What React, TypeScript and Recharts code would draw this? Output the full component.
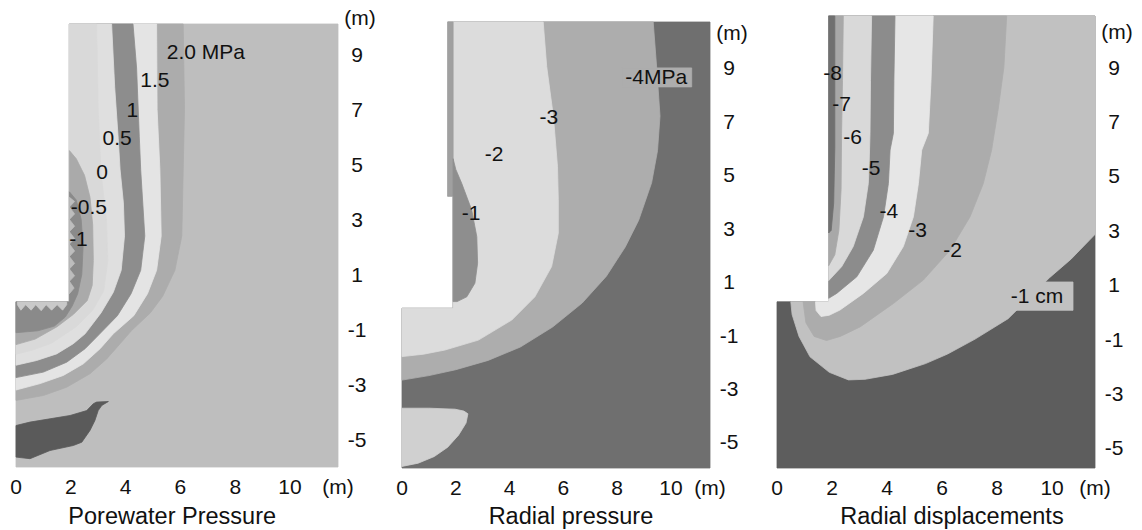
import React from 'react';
import { ScatterChart, Scatter, XAxis, YAxis, ReferenceArea, Label } from 'recharts';

type Pt = [number, number];
type Region = { fill: string; pts: Pt[] };
type Tag = { x: number; y: number; text: string };

const FONT = '"Liberation Sans", Arial, Helvetica, sans-serif';
const INK = '#111111';

const yTicks = [9, 7, 5, 3, 1, -1, -3, -5];
const xTickVals = [0, 2, 4, 6, 8, 10];
const unitLevel = 10.32; // where the "(m)" caption of the depth axis sits

// ---------- Porewater pressure ----------
const poreX: Pt = [0, 11.75];
const poreY: Pt = [-6, 10.1];
const poreWall = 1.95;

const pore20: Pt[] = [[6.1, 10.1], [6.15, 7], [6.1, 4.8], [6.05, 2.4], [5.8, 1.15], [5.35, 0.2], [4.9, -0.4], [4.22, -1.04], [3.8, -1.52], [3.31, -2.07], [2.7, -2.61], [1.85, -3.1], [1.0, -3.4], [0, -3.58]];
const pore15: Pt[] = [[5.13, 10.1], [5.15, 7], [5.25, 4.8], [5.3, 2.4], [5.13, 1.15], [4.8, 0.3], [4.3, -0.5], [3.55, -1.16], [3.07, -1.7], [2.46, -2.25], [1.73, -2.67], [0.88, -2.97], [0, -3.2]];
const pore10: Pt[] = [[4.27, 10.1], [4.4, 8.5], [4.5, 6], [4.55, 4.8], [4.7, 2.4], [4.55, 1.15], [4.2, 0.3], [3.7, -0.5], [2.94, -1.28], [2.52, -1.7], [1.85, -2.19], [1.0, -2.55], [0, -2.75]];
const pore05: Pt[] = [[3.49, 10.1], [3.6, 7.8], [3.73, 5.95], [3.8, 4.8], [3.92, 3.6], [3.96, 2.4], [3.84, 1.15], [3.55, 0.35], [3.1, -0.4], [2.52, -1.16], [2.09, -1.52], [1.48, -1.89], [0.75, -2.13], [0, -2.3]];
const pore00: Pt[] = [[2.94, 10.1], [3.0, 7], [3.1, 4.7], [3.3, 3], [3.35, 1.5], [3.2, 0.4], [2.8, -0.3], [2.2, -0.9], [1.3, -1.5], [0.6, -1.75], [0, -1.9]];
const poreM05: Pt[] = [[poreWall, 5.5], [2.2, 5.2], [2.5, 4.6], [2.7, 3.8], [2.8, 2.8], [2.82, 1.5], [2.78, 0.6], [2.6, 0.05], [2.1, -0.45], [1.5, -0.9], [0.7, -1.35], [0, -1.55]];
const poreM10: Pt[] = [[poreWall, 4.0], [2.2, 3.7], [2.38, 3.0], [2.45, 2.0], [2.4, 1.0], [2.25, 0.3], [2.05, -0.15], [1.8, -0.55], [1.4, -0.88], [0.8, -1.05], [0, -1.12]];
const poreFroth: Pt[] = [[0.05, 0], [1.85, 0], [1.85, -0.1], [1.7, -0.3], [1.5, -0.1], [1.3, -0.3], [1.1, -0.1], [0.92, -0.32], [0.72, -0.1], [0.55, -0.3], [0.35, -0.1], [0.18, -0.3], [0.05, -0.1]];
const poreNotch: Pt[] = [[poreWall, 3.8], [2.14, 3.65], [poreWall, 3.45], [2.14, 3.2], [poreWall, 3.0], [2.14, 2.75], [poreWall, 2.55], [2.14, 2.3], [poreWall, 2.1], [2.14, 1.85], [poreWall, 1.65], [2.14, 1.4], [poreWall, 1.2], [2.14, 0.95], [poreWall, 0.75], [2.12, 0.5], [poreWall, 0.3]];
const poreBlob: Pt[] = [[0, -4.49], [0.51, -4.37], [1.24, -4.25], [1.97, -4.13], [2.58, -3.95], [2.82, -3.7], [2.94, -3.64], [3.37, -3.62], [3.13, -3.76], [3.0, -3.95], [2.88, -4.31], [2.7, -4.67], [2.4, -5.1], [2.09, -5.22], [1.24, -5.4], [0.51, -5.7], [0, -5.64]];
const poreTags: Tag[] = [
  { x: 6.93, y: 9.07, text: '2.0 MPa' },
  { x: 5.07, y: 8.05, text: '1.5' },
  { x: 4.25, y: 6.96, text: '1' },
  { x: 3.69, y: 5.95, text: '0.5' },
  { x: 3.14, y: 4.71, text: '0' },
  { x: 2.66, y: 3.44, text: '-0.5' },
  { x: 2.28, y: 2.27, text: '-1' },
];

// ---------- Radial pressure ----------
const radX: Pt = [0, 11.45];
const radY: Pt = [-5.98, 10.72];
const radWall = 1.9;
const radStripLeft = 1.7;
const radStripBottom = 4.2;

const rad4: Pt[] = [[9.34, 10.72], [9.47, 9.0], [9.59, 7.2], [9.5, 5.9], [9.28, 4.7], [8.8, 3.3], [8.3, 2.3], [7.6, 1.2], [6.7, 0.2], [5.6, -0.7], [4.4, -1.45], [3.2, -1.95], [2.0, -2.3], [1.0, -2.52], [0, -2.69]];
const rad3: Pt[] = [[5.25, 10.72], [5.38, 9.05], [5.63, 7.18], [5.78, 5.3], [5.81, 4.06], [5.81, 2.81], [5.56, 1.56], [4.94, 0.43], [4.08, -0.44], [2.84, -1.19], [1.6, -1.56], [0.8, -1.72], [0, -1.81]];
const rad1: Pt[] = [[radWall, 5.6], [2.0, 5.2], [2.22, 4.68], [2.59, 3.68], [2.78, 2.68], [2.81, 1.69], [2.71, 0.94], [2.41, 0.43], [2.05, 0.25], [radWall, 0.25]];
const radBlob: Pt[] = [[0, -3.74], [1.0, -3.74], [1.97, -3.78], [2.3, -3.85], [2.45, -3.95], [2.38, -4.3], [2.1, -4.75], [1.7, -5.2], [1.2, -5.55], [0.6, -5.8], [0, -5.92]];
const radBox: Pt[] = [[8.17, 9.0], [10.77, 9.0], [10.77, 8.29], [8.17, 8.29]];
const radTags: Tag[] = [
  { x: 9.45, y: 8.65, text: '-4MPa' },
  { x: 5.46, y: 7.16, text: '-3' },
  { x: 3.42, y: 5.78, text: '-2' },
  { x: 2.57, y: 3.57, text: '-1' },
];

// ---------- Radial displacements ----------
const dispX: Pt = [0, 11.56];
const dispY: Pt = [-5.74, 10.88];
const dispWall = 1.88;
const dispFloor = 0.37;

const disp1: Pt[] = [[11.56, 2.85], [10.7, 1.95], [9.9, 1.25], [9.15, 0.5], [8.4, -0.25], [7.2, -1.0], [6.2, -1.55], [5.4, -1.9], [4.2, -2.3], [3.2, -2.48], [2.6, -2.5], [1.9, -2.22], [1.2, -1.65], [0.8, -0.9], [0.55, -0.1], [0.5, 0.37]];
const disp2: Pt[] = [[8.35, 10.88], [8.25, 9], [8.05, 7.5], [7.8, 5.95], [7.5, 4.72], [7.02, 3.5], [6.29, 2.27], [5.32, 1.17], [4.23, 0.31], [3.02, -0.55], [2.3, -0.9], [1.8, -1.05], [1.35, -0.9], [1.05, -0.4], [0.95, 0.37]];
const disp3: Pt[] = [[5.68, 10.88], [5.6, 8.5], [5.5, 6.57], [5.26, 5.95], [5.14, 4.72], [4.96, 3.5], [4.59, 2.4], [3.99, 1.41], [3.14, 0.68], [2.29, 0.07], [1.9, -0.12], [1.6, -0.17], [1.42, 0.05], [1.4, 0.37]];
const disp4: Pt[] = [[4.29, 10.88], [4.25, 8.5], [4.23, 6.57], [4.11, 5.95], [4.05, 4.72], [3.87, 3.5], [3.5, 2.27], [2.9, 1.29], [2.17, 0.68], [dispWall, 0.5]];
const disp5: Pt[] = [[3.44, 10.88], [3.4, 8.5], [3.38, 6.57], [3.35, 5.5], [3.32, 4.72], [3.14, 3.5], [2.77, 2.4], [2.35, 1.66], [dispWall, 1.15]];
const disp7: Pt[] = [[2.41, 10.88], [2.38, 8.5], [2.35, 6.57], [2.33, 4.5], [2.25, 3.0], [2.1, 2.1], [dispWall, 1.7]];
const disp8: Pt[] = [[2.1, 10.88], [2.1, 6], [2.06, 4], [1.97, 3.0], [dispWall, 2.9]];
const dispBox: Pt[] = [[8.4, 1.1], [10.76, 1.1], [10.76, 0.06], [8.4, 0.06]];
const dispTags: Tag[] = [
  { x: 2.02, y: 8.78, text: '-8' },
  { x: 2.35, y: 7.64, text: '-7' },
  { x: 2.75, y: 6.43, text: '-6' },
  { x: 3.42, y: 5.29, text: '-5' },
  { x: 4.07, y: 3.71, text: '-4' },
  { x: 5.11, y: 3.01, text: '-3' },
  { x: 6.38, y: 2.27, text: '-2' },
  { x: 9.45, y: 0.58, text: '-1 cm' },
];

// closes a contour against the borehole wall
const band = (head: Pt[], c: Pt[], tail: Pt[]): Pt[] => [...head, ...c, ...tail];

const poreHead: Pt[] = [[poreWall, poreY[1]]];
const poreTail: Pt[] = [[0, 0], [poreWall, 0]];
const poreRegions: Region[] = [
  { fill: '#bebebe', pts: [[0, poreY[0]], [poreX[1], poreY[0]], [poreX[1], poreY[1]], [poreWall, poreY[1]], [poreWall, 0], [0, 0]] },
  { fill: '#acacac', pts: band(poreHead, pore20, poreTail) },
  { fill: '#e4e4e4', pts: band(poreHead, pore15, poreTail) },
  { fill: '#8d8d8d', pts: band(poreHead, pore10, poreTail) },
  { fill: '#dfdfdf', pts: band(poreHead, pore05, poreTail) },
  { fill: '#d9d9d9', pts: band(poreHead, pore00, poreTail) },
  { fill: '#aaaaaa', pts: band([], poreM05, poreTail) },
  { fill: '#8a8a8a', pts: band([], poreM10, poreTail) },
  { fill: '#c9c9c9', pts: poreFroth },
  { fill: '#bdbdbd', pts: poreNotch },
  { fill: '#5a5a5a', pts: poreBlob },
];

const radHead: Pt[] = [[radStripLeft, radY[1]]];
const radTail: Pt[] = [[0, 0], [radWall, 0], [radWall, radStripBottom], [radStripLeft, radStripBottom]];
const radRegions: Region[] = [
  { fill: '#6f6f6f', pts: [[0, radY[0]], [radX[1], radY[0]], [radX[1], radY[1]], ...radHead, ...radTail.slice().reverse()] },
  { fill: '#adadad', pts: band(radHead, rad4, radTail) },
  { fill: '#dcdcdc', pts: band(radHead, rad3, radTail) },
  { fill: '#a0a0a0', pts: [[radStripLeft, radY[1]], [radWall, radY[1]], [radWall, radStripBottom], [radStripLeft, radStripBottom]] },
  { fill: '#8e8e8e', pts: rad1 },
  { fill: '#d0d0d0', pts: radBlob },
  { fill: '#adadad', pts: radBox },
];

const dispHead: Pt[] = [[dispWall, dispY[1]]];
const dispTail: Pt[] = [[dispWall, dispFloor]];
const dispRegions: Region[] = [
  { fill: '#5d5d5d', pts: [[0, dispY[0]], [dispX[1], dispY[0]], [dispX[1], dispY[1]], [dispWall, dispY[1]], [dispWall, dispFloor], [0, dispFloor]] },
  { fill: '#c1c1c1', pts: band([...dispTail, ...dispHead, [dispX[1], dispY[1]]], disp1, []) },
  { fill: '#acacac', pts: band(dispHead, disp2, dispTail) },
  { fill: '#e6e6e6', pts: band(dispHead, disp3, dispTail) },
  { fill: '#8c8c8c', pts: band(dispHead, disp4, []) },
  { fill: '#d9d9d9', pts: band(dispHead, disp5, []) },
  { fill: '#a8a8a8', pts: band(dispHead, disp7, []) },
  { fill: '#707070', pts: band(dispHead, disp8, []) },
  { fill: '#c1c1c1', pts: dispBox },
];

type PanelProps = {
  left: number;
  width: number;
  margin: { top: number; right: number; bottom: number; left: number };
  xDomain: Pt;
  yDomain: Pt;
  regions: Region[];
  tags: Tag[];
  title: string;
  titleX: number;
};

function Panel({ left, width, margin, xDomain, yDomain, regions, tags, title, titleX }: PanelProps) {
  const [x0, x1] = xDomain;
  const [y0, y1] = yDomain;

  // the reference area spans the whole domain, so its rect gives the plot scales
  const drawField = (r: any) => {
    const sx = (v: number) => r.x + ((v - x0) / (x1 - x0)) * r.width;
    const sy = (v: number) => r.y + ((y1 - v) / (y1 - y0)) * r.height;
    return (
      <g>
        {regions.map((g, i) => (
          <polygon
            key={i}
            points={g.pts.map(([a, b]) => `${sx(a).toFixed(1)},${sy(b).toFixed(1)}`).join(' ')}
            fill={g.fill}
            stroke={g.fill}
            strokeWidth={0.8}
            strokeLinejoin="round"
          />
        ))}
      </g>
    );
  };

  const tagShape = (p: any) => (
    <text x={p.cx} y={p.cy + 7} textAnchor="middle" fontSize={21} fontFamily={FONT} fill={INK}>
      {p.payload.text}
    </text>
  );

  const xTick = (p: any) => (
    <text x={p.x} y={p.y + 27} textAnchor="middle" fontSize={21} fontFamily={FONT} fill={INK}>
      {p.payload.value === x1 ? '(m)' : p.payload.value}
    </text>
  );

  const yTick = (p: any) => (
    <text x={p.x + 19} y={p.y + 7.5} textAnchor="middle" fontSize={21} fontFamily={FONT} fill={INK}>
      {p.payload.value}
    </text>
  );

  const titleLabel = (p: any) => {
    const vb = p.viewBox;
    return (
      <text x={vb.x + ((titleX - x0) / (x1 - x0)) * vb.width} y={524} textAnchor="middle" fontSize={23.5} fontFamily={FONT} fill={INK}>
        {title}
      </text>
    );
  };

  const unitLabel = (p: any) => {
    const vb = p.viewBox;
    return (
      <text x={vb.x + 22} y={vb.y + ((y1 - unitLevel) / (y1 - y0)) * vb.height + 7.5} textAnchor="middle" fontSize={21} fontFamily={FONT} fill={INK}>
        (m)
      </text>
    );
  };

  return (
    <div style={{ position: 'absolute', left, top: 0 }}>
      <ScatterChart width={width} height={530} margin={margin}>
        <XAxis
          type="number"
          dataKey="x"
          domain={xDomain}
          ticks={[...xTickVals, x1]}
          interval={0}
          allowDataOverflow
          axisLine={false}
          tickLine={false}
          tickSize={0}
          tickMargin={0}
          tick={xTick}
          height={30}
        >
          <Label content={titleLabel} />
        </XAxis>
        <YAxis
          type="number"
          dataKey="y"
          orientation="right"
          domain={yDomain}
          ticks={yTicks}
          interval={0}
          allowDataOverflow
          axisLine={false}
          tickLine={false}
          tickSize={0}
          tickMargin={0}
          tick={yTick}
          width={40}
        >
          <Label content={unitLabel} />
        </YAxis>
        <ReferenceArea x1={x0} x2={x1} y1={y0} y2={y1} shape={drawField} ifOverflow="visible" />
        <Scatter data={tags} isAnimationActive={false} shape={tagShape} />
      </ScatterChart>
    </div>
  );
}

export default function App() {
  return (
    <div style={{ position: 'relative', width: 1142, height: 530, background: '#ffffff', fontFamily: FONT }}>
      <style>{'body{margin:0}'}</style>
      <Panel
        left={0}
        width={385}
        margin={{ top: 24, right: 7, bottom: 33, left: 16 }}
        xDomain={poreX}
        yDomain={poreY}
        regions={poreRegions}
        tags={poreTags}
        title="Porewater Pressure"
        titleX={5.7}
      />
      <Panel
        left={385}
        width={375}
        margin={{ top: 22, right: 10, bottom: 32, left: 17 }}
        xDomain={radX}
        yDomain={radY}
        regions={radRegions}
        tags={radTags}
        title="Radial pressure"
        titleX={6.28}
      />
      <Panel
        left={760}
        width={382}
        margin={{ top: 16, right: 7, bottom: 32, left: 17 }}
        xDomain={dispX}
        yDomain={dispY}
        regions={dispRegions}
        tags={dispTags}
        title="Radial displacements"
        titleX={6.36}
      />
    </div>
  );
}
